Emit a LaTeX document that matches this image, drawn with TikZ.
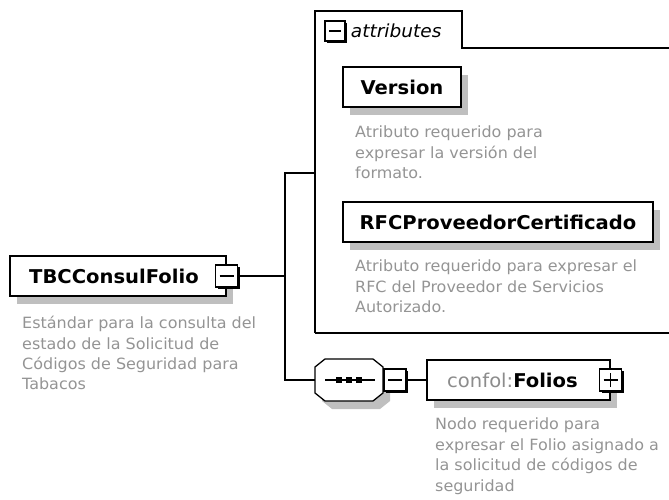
\documentclass[tikz,border=0pt]{standalone}
\usepackage{fontspec}
\setmainfont{DejaVu Sans}[FakeStretch=1.03]
\usetikzlibrary{positioning,shadows}

\begin{document}
\begin{tikzpicture}[x=1pt, y=-1pt,
        elnode/.style={
            rectangle,
            draw,
            line width=1.3pt,
            fill=white,
            minimum height=40pt,
            inner xsep=0pt,
            font=\fontsize{19}{22}\selectfont\bfseries,
            general shadow={fill=black!25, draw=none, shadow xshift=7pt, shadow yshift=-8pt}
        },
        descnode/.style={
            anchor=north west,
            inner sep=0pt,
            align=left,
            text=black!42,
            font=\fontsize{15.5}{20.4}\selectfont
        },
        btnnode/.style={
            rectangle,
            draw,
            line width=1.5pt,
            fill=white,
            minimum size=22pt,
            inner sep=0pt,
            general shadow={fill=black, draw=none, shadow xshift=2pt, shadow yshift=-2pt}
        },
        minusbtn/.style={
            btnnode,
            path picture={\draw[line width=1.3pt] ([xshift=4pt]path picture bounding box.west) -- ([xshift=-4pt]path picture bounding box.east);}
        },
        plusbtn/.style={
            btnnode,
            path picture={\draw[line width=1.3pt] ([xshift=4pt]path picture bounding box.west) -- ([xshift=-4pt]path picture bounding box.east)
                ([yshift=4pt]path picture bounding box.south) -- ([yshift=-4pt]path picture bounding box.north);}
        },
        seqnode/.style={
            rectangle,
            minimum width=68pt,
            minimum height=42pt,
            inner sep=0pt
        },
        conn/.style={line width=1.3pt}
    ]
    \useasboundingbox (0,0) rectangle (669,500);

    \node[elnode, minimum width=216pt] (tbc) at (118,276) {\hspace*{-8pt}TBCConsulFolio};
    \node[minusbtn] (tbcbtn) at (tbc.east) {};
    \node[descnode] (tbcdesc) at (22,316) {Estándar para la consulta del\\estado de la Solicitud de\\Códigos de Seguridad para\\Tabacos};

    \coordinate (junc) at (285,276);
    \coordinate (attrin) at (315,173);
    \draw[conn] (315,333) -- (315,11) -- (462,11) -- (462,48) -- (669,48);
    \draw[conn] (315,333) -- (669,333);
    \node[minusbtn, minimum size=20pt] (attrbtn) at (335,31) {};
    \node[right=5pt of attrbtn, inner sep=0pt, font=\fontsize{18}{20}\selectfont\itshape] (attrlabel) {attributes};

    \node[elnode, minimum width=118pt] (version) at (402,87) {Version};
    \node[descnode] (versiondesc) at (355,126) {Atributo requerido para\\expresar la versión del\\formato.};
    \node[elnode, minimum width=310pt] (rfc) at (498,222) {RFCProveedorCertificado};
    \node[descnode] (rfcdesc) at (355,260) {Atributo requerido para expresar el\\RFC del Proveedor de Servicios\\Autorizado.};

    \node[seqnode] (seq) at (349,380) {};
    \begin{scope}[shift={(seq.center)}]
        \fill[black!25, shift={(7,8)}] (-24,-21) -- (24,-21) -- (34,-13) -- (34,13) -- (24,21) -- (-24,21) -- (-34,13) -- (-34,-13) -- cycle;
        \filldraw[fill=white, line width=1.3pt] (-24,-21) -- (24,-21) -- (34,-13) -- (34,13) -- (24,21) -- (-24,21) -- (-34,13) -- (-34,-13) -- cycle;
        \draw[line width=1.2pt] (-24,0) -- (26,0);
        \foreach \dx in {-10,0,10}
            \fill (\dx-2.8,-2.8) rectangle ++(5.6,5.6);
    \end{scope}
    \node[minusbtn] (seqbtn) at (395,380) {};

    \node[elnode, minimum width=183pt] (folios) at (518.5,380) {\hspace*{-12pt}\textcolor{black!45}{\mdseries confol:}Folios};
    \node[plusbtn] (foliosbtn) at (folios.east) {};
    \node[descnode] (foliosdesc) at (435,418) {Nodo requerido para\\expresar el Folio asignado a\\la solicitud de códigos de\\seguridad};

    \draw[conn] (tbcbtn.east) -- (junc);
    \draw[conn] (attrin) -| (junc) |- (seq.west);
    \draw[conn] (seqbtn.east) -- (folios.west);
\end{tikzpicture}
\end{document}
